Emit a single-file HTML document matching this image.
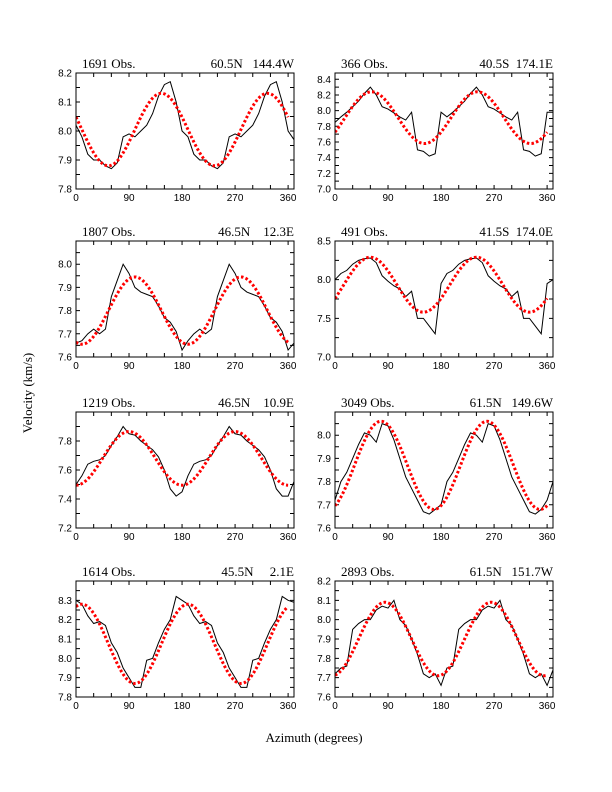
<!DOCTYPE html>
<html><head><meta charset="utf-8"><style>
html,body{margin:0;padding:0;background:#fff;}
svg{display:block;}
.tl{font-family:"Liberation Sans",sans-serif;font-size:10px;fill:#000;}
.tt{font-family:"Liberation Serif",serif;font-size:13px;fill:#000;}
</style></head><body>
<svg id="chart" width="612" height="792" viewBox="0 0 612 792" xmlns="http://www.w3.org/2000/svg">
<text class="tt" x="314" y="742" text-anchor="middle">Azimuth (degrees)</text>
<text class="tt" x="0" y="0" text-anchor="middle" transform="translate(32,393) rotate(-90)">Velocity (km/s)</text>
</svg>
<script>
const obsLabels = ["1691 Obs.","366 Obs.","1807 Obs.","491 Obs.","1219 Obs.","3049 Obs.","1614 Obs.","2893 Obs."];
const locLabels = ["60.5N   144.4W","40.5S  174.1E","46.5N    12.3E","41.5S  174.0E","46.5N    10.9E","61.5N   149.6W","45.5N     2.1E","61.5N   151.7W"];
const yMins = [7.8,7.0,7.6,7.0,7.2,7.6,7.8,7.6];
const yMaxs = [8.2,8.48,8.1,8.5,8.0,8.1,8.4,8.2];
const yTickLabels = [
 ["7.8","7.9","8.0","8.1","8.2"],
 ["7.0","7.2","7.4","7.6","7.8","8.0","8.2","8.4"],
 ["7.6","7.7","7.8","7.9","8.0"],
 ["7.0","7.5","8.0","8.5"],
 ["7.2","7.4","7.6","7.8"],
 ["7.6","7.7","7.8","7.9","8.0"],
 ["7.8","7.9","8.0","8.1","8.2","8.3"],
 ["7.6","7.7","7.8","7.9","8.0","8.1","8.2"]
];
const xTickLabels = ["0","90","180","270","360"];
// fitted curve parameters: mean velocity, amplitude, azimuth of peak
const fitMean = [8.005,7.91,7.80,7.935,7.68,7.87,8.075,7.90];
const fitAmp = [0.125,0.33,0.145,0.355,0.185,0.19,0.205,0.19];
const fitPeak = [145,62,100,60,90,78,10,85];
// observed velocities every 10 degrees, 0..370
const obs1 = [8.02,7.98,7.92,7.9,7.9,7.88,7.87,7.89,7.98,7.99,7.98,8.0,8.02,8.06,8.12,8.16,8.17,8.1,8.0,7.98,7.92,7.9,7.9,7.88,7.87,7.89,7.98,7.99,7.98,8.0,8.02,8.06,8.12,8.16,8.17,8.1,8.0,7.97];
const obs2 = [7.85,7.92,7.98,8.05,8.12,8.22,8.3,8.2,8.05,8.02,7.97,7.92,7.88,7.98,7.5,7.48,7.42,7.45,7.98,7.92,7.98,8.05,8.12,8.22,8.3,8.2,8.05,8.02,7.97,7.92,7.88,7.98,7.5,7.48,7.42,7.45,7.98,7.98];
const obs3 = [7.66,7.67,7.7,7.72,7.7,7.72,7.86,7.93,8.0,7.96,7.9,7.88,7.87,7.86,7.82,7.77,7.75,7.71,7.63,7.67,7.7,7.72,7.7,7.72,7.86,7.93,8.0,7.96,7.9,7.88,7.87,7.86,7.82,7.77,7.75,7.71,7.63,7.66];
const obs4 = [8.0,8.08,8.12,8.2,8.25,8.27,8.28,8.22,8.05,7.98,7.92,7.88,7.78,7.85,7.5,7.5,7.4,7.3,7.95,8.08,8.12,8.2,8.25,8.27,8.28,8.22,8.05,7.98,7.92,7.88,7.78,7.85,7.5,7.5,7.4,7.3,7.95,8.0];
const obs5 = [7.5,7.56,7.64,7.66,7.67,7.7,7.77,7.83,7.9,7.85,7.84,7.8,7.77,7.74,7.69,7.6,7.47,7.42,7.45,7.56,7.64,7.66,7.67,7.7,7.77,7.83,7.9,7.85,7.84,7.8,7.77,7.74,7.69,7.6,7.47,7.42,7.42,7.52];
const obs6 = [7.72,7.8,7.84,7.9,7.96,8.01,8.0,7.97,8.05,8.04,7.98,7.9,7.82,7.77,7.72,7.67,7.66,7.68,7.7,7.8,7.84,7.9,7.96,8.01,8.0,7.97,8.05,8.04,7.98,7.9,7.82,7.77,7.72,7.67,7.66,7.68,7.72,7.8];
const obs7 = [8.3,8.28,8.22,8.18,8.19,8.17,8.08,8.03,7.95,7.9,7.85,7.85,7.99,8.0,8.08,8.15,8.2,8.32,8.3,8.28,8.22,8.18,8.19,8.17,8.08,8.03,7.95,7.9,7.85,7.85,7.99,8.0,8.08,8.15,8.2,8.32,8.3,8.29];
const obs8 = [7.72,7.75,7.76,7.95,7.98,8.0,8.0,8.05,8.07,8.06,8.1,8.0,7.97,7.9,7.82,7.72,7.7,7.72,7.66,7.75,7.76,7.95,7.98,8.0,8.0,8.05,8.07,8.06,8.1,8.0,7.97,7.9,7.82,7.72,7.7,7.72,7.66,7.74];
const obsAll = [obs1,obs2,obs3,obs4,obs5,obs6,obs7,obs8];

const NS="http://www.w3.org/2000/svg";
const svg=document.getElementById('chart');
const colX=[76,335], boxW=218, rowY=[73,241,412,581], boxH=116, XMAX=370;
function mk(tag,attrs,parent){const e=document.createElementNS(NS,tag);for(const k in attrs)e.setAttribute(k,attrs[k]);parent.appendChild(e);return e;}

for(let p=0;p<8;p++){
  const x0=colX[p%2], y0=rowY[Math.floor(p/2)];
  const g=mk('g',{},svg);
  
  
  const yMin=yMins[p], yMax=yMaxs[p];
  const xs=v=>x0+v/XMAX*boxW;
  const ys=v=>y0+boxH-(v-yMin)/(yMax-yMin)*boxH;
  const cid='clip'+p;
  const cp=mk('clipPath',{id:cid},g); mk('rect',{x:x0,y:y0,width:boxW,height:boxH},cp);
  let td='';
  for(let a=0;a<=360;a+=30){const X=xs(a);td+=`M${X},${y0+boxH}v-4M${X},${y0}v4`;}
  const labs=yTickLabels[p];
  const step=(parseFloat(labs[1])-parseFloat(labs[0]));
  for(let v=yMin;v<=yMax+1e-6;v+=step/2){const Y=ys(v);td+=`M${x0},${Y}h4M${x0+boxW},${Y}h-4`;}
  const tk=mk('path',{d:td,stroke:'#000','stroke-width':1,fill:'none'},g);
  
  
  labs.forEach(l=>{const t=mk('text',{class:'tl',x:x0-4,y:ys(parseFloat(l))+3.5,'text-anchor':'end'},g);t.textContent=l;
    
    });
  xTickLabels.forEach(l=>{const t=mk('text',{class:'tl',x:xs(parseFloat(l)),y:y0+boxH+12,'text-anchor':'middle'},g);t.textContent=l;
    
    });
  const ob=obsAll[p];
  let d='';
  ob.forEach((v,i)=>{d+=(i===0?'M':'L')+xs(i*10)+','+ys(v);});
  const ol=mk('path',{d:d,stroke:'#000','stroke-width':1,fill:'none','stroke-linejoin':'miter','clip-path':`url(#${cid})`},g);
  
  
  let fd='';
  for(let a=0;a<=360;a+=2){const v=fitMean[p]+fitAmp[p]*Math.cos(2*(a-fitPeak[p])*Math.PI/180);fd+=(a===0?'M':'L')+xs(a)+','+ys(v);}
  const fl=mk('path',{d:fd,stroke:'#f00','stroke-width':3,fill:'none','stroke-dasharray':'2.5 2.2','clip-path':`url(#${cid})`},g);
  
  
  const bx=mk('rect',{x:x0,y:y0,width:boxW,height:boxH,fill:'none',stroke:'#000','stroke-width':1},g);
  
  
  const t1=mk('text',{class:'tt',x:x0+6,y:y0-5},g);t1.textContent=obsLabels[p];
  
  
  const t2=mk('text',{class:'tt',x:x0+boxW,y:y0-5,'text-anchor':'end'},g);t2.textContent=locLabels[p];
  t2.style.whiteSpace='pre';
  
  
}
</script>
</body></html>
